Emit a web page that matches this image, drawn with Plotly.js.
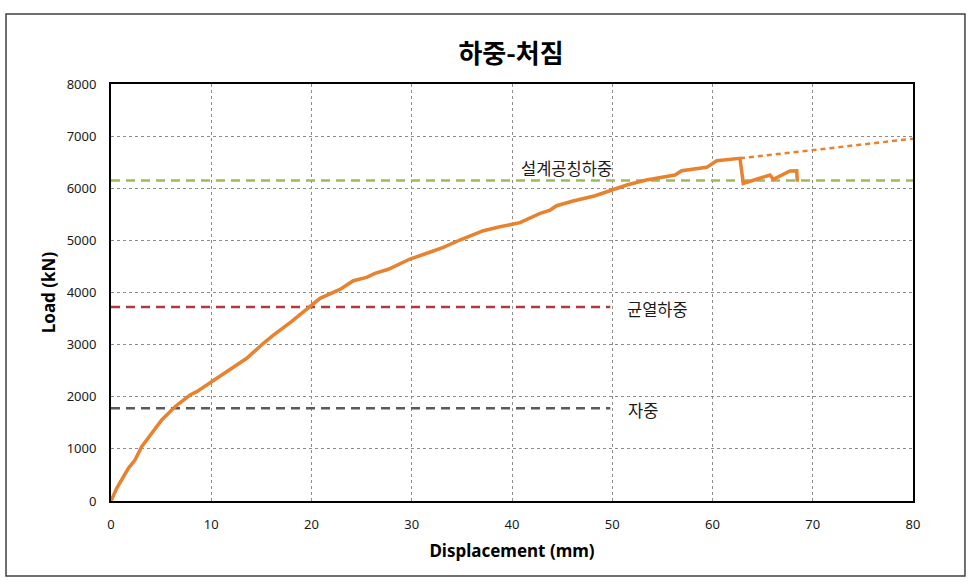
<!DOCTYPE html>
<html>
<head>
<meta charset="utf-8">
<script src="https://cdn.plot.ly/plotly-3.0.1.min.js"></script>
<style>html,body{margin:0;padding:0;background:#fff;}#chart{width:973px;height:582px;}</style>
</head>
<body>
<div id="chart"></div>
<script>
// Measured load-displacement curve
const dispX = [0, 0.57, 1.73, 2.39, 3.06, 4.22, 5.06, 6.38, 7.88, 8.55, 10.04, 11.54, 12.54, 13.54, 15.2, 16.2, 18.0, 19.85, 20.85, 22.84, 24.17, 25.5, 26.33, 27.66, 28.83, 29.83, 31.65, 33.15, 34.8, 37.14, 38.8, 40.8, 42.8, 43.8, 44.46, 46.1, 48.3, 50.1, 51.45, 53.4, 56.26, 56.93, 59.42, 60.42, 62.74, 63.07, 65.73, 66.07, 67.73, 68.4, 68.46];
const loadY = [0, 244, 627, 786, 1042, 1330, 1554, 1809, 2033, 2097, 2289, 2481, 2609, 2737, 3025, 3184, 3440, 3727, 3888, 4060, 4226, 4291, 4368, 4445, 4560, 4642, 4763, 4867, 5007, 5185, 5262, 5339, 5519, 5582, 5665, 5755, 5857, 5966, 6062, 6158, 6254, 6336, 6401, 6528, 6574, 6094, 6254, 6171, 6330, 6336, 6125];
// Extrapolated (dotted) extension
const extX = [62.74, 80];
const extY = [6574, 6950];
// Reference load levels
const designLoad = 6150;   // 설계공칭하중
const crackLoad = 3720;    // 균열하중
const selfWeight = 1780;   // 자중
const levelLineEndShort = 49.8;
const xTicks = [0, 10, 20, 30, 40, 50, 60, 70, 80];
const yTicks = [0, 1000, 2000, 3000, 4000, 5000, 6000, 7000, 8000];

const orange = '#E8822E';
const traces = [
  {x: [0, 80], y: [designLoad, designLoad], mode: 'lines', line: {color: '#9BBB59', width: 2.5, dash: '9px,6px'}, hoverinfo: 'skip'},
  {x: [0, levelLineEndShort], y: [crackLoad, crackLoad], mode: 'lines', line: {color: '#B23A3A', width: 2.5, dash: '9px,6px'}, hoverinfo: 'skip'},
  {x: [0, levelLineEndShort], y: [selfWeight, selfWeight], mode: 'lines', line: {color: '#5A5A5A', width: 2.5, dash: '9px,6px'}, hoverinfo: 'skip'},
  {x: extX, y: extY, mode: 'lines', line: {color: orange, width: 2.5, dash: '5px,4px'}},
  {x: dispX, y: loadY, mode: 'lines', line: {color: orange, width: 3.5}}
];

const tickFont = {family: 'Noto Sans, Liberation Sans, sans-serif', size: 13, color: '#1a1a1a'};
const layout = {
  width: 973, height: 582,
  margin: {l: 111, r: 60, t: 84, b: 81},
  paper_bgcolor: '#fff', plot_bgcolor: '#fff',
  showlegend: false,
  title: {text: '<b>하중-처짐</b>', font: {family: 'Noto Sans CJK KR', size: 26, color: '#000'}, x: 0.4988, xref: 'paper', xanchor: 'center', y: 0.908, yref: 'container', yanchor: 'middle'},
  xaxis: {
    range: [0, 80], tickvals: xTicks, ticktext: xTicks.map(String),
    showgrid: true, gridcolor: '#8c8c8c', griddash: 'dot', gridwidth: 1,
    showline: true, mirror: true, linecolor: '#000', linewidth: 2,
    ticks: '', ticklabelstandoff: 10, zeroline: false, tickfont: tickFont,
    title: {text: '<b>Displacement (mm)</b>', font: {family: 'Noto Sans, Liberation Sans, sans-serif', size: 17, color: '#000'}, standoff: 14}
  },
  yaxis: {
    range: [0, 8000], tickvals: yTicks, ticktext: yTicks.map(String),
    showgrid: true, gridcolor: '#8c8c8c', griddash: 'dot', gridwidth: 1,
    showline: true, mirror: true, linecolor: '#000', linewidth: 2,
    ticks: '', ticklabelstandoff: 10, zeroline: false, tickfont: tickFont,
    title: {text: '<b>Load (kN)</b>', font: {family: 'Noto Sans, Liberation Sans, sans-serif', size: 17, color: '#000'}, standoff: 7}
  },
  annotations: [
    {x: 45.4, y: 6390, xref: 'x', yref: 'y', text: '설계공칭하중', showarrow: false, font: {family: 'Noto Sans CJK KR', size: 16.5, color: '#1a1a1a'}, xanchor: 'center', yanchor: 'middle'},
    {x: 51.3, y: 3690, xref: 'x', yref: 'y', text: '균열하중', showarrow: false, font: {family: 'Noto Sans CJK KR', size: 16.5, color: '#1a1a1a'}, xanchor: 'left', yanchor: 'middle'},
    {x: 51.4, y: 1750, xref: 'x', yref: 'y', text: '자중', showarrow: false, font: {family: 'Noto Sans CJK KR', size: 16.5, color: '#1a1a1a'}, xanchor: 'left', yanchor: 'middle'}
  ],
  shapes: [
    {type: 'rect', xref: 'paper', yref: 'paper', x0: -0.1309, x1: 1.0648, y0: -0.1799, y1: 1.1679, line: {color: '#404040', width: 1.5}, fillcolor: 'rgba(0,0,0,0)', layer: 'below'}
  ]
};
Plotly.newPlot('chart', traces, layout, {displayModeBar: false, staticPlot: true});
</script>
</body>
</html>
